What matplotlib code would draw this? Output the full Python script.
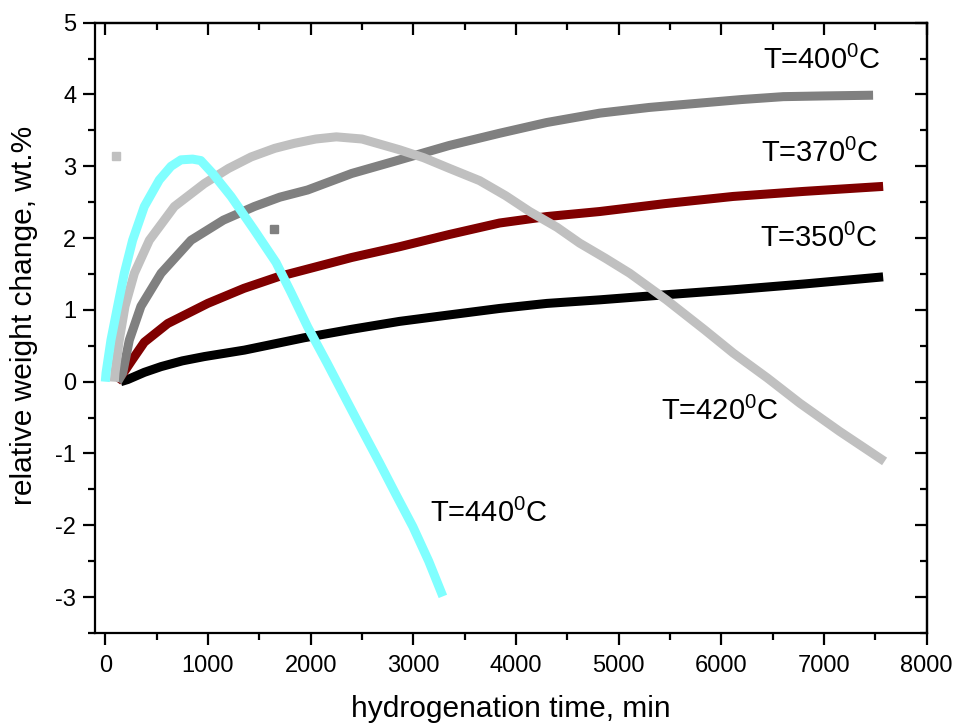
import matplotlib
matplotlib.use("Agg")
import matplotlib.pyplot as plt
from matplotlib.ticker import MultipleLocator

plt.rcParams['font.family'] = ['Liberation Sans', 'DejaVu Sans']
plt.rcParams['mathtext.fontset'] = 'custom'
plt.rcParams['mathtext.rm'] = 'Liberation Sans'
plt.rcParams['axes.unicode_minus'] = False

# T = 350 C (black)
t350 = [150, 218, 380, 543, 750, 965, 1355, 1930, 2400, 2866, 3350, 3840, 4300,
        4815, 5450, 6115, 6800, 7576]
w350 = [0.0, 0.03, 0.13, 0.21, 0.29, 0.35, 0.44, 0.61, 0.73, 0.84, 0.93, 1.02, 1.09,
        1.14, 1.21, 1.28, 1.36, 1.46]

# T = 370 C (dark red)
t370 = [110, 185, 260, 380, 608, 997, 1350, 1680, 2000, 2400, 2866, 3350, 3840,
        4300, 4815, 5450, 6115, 6800, 7576]
w370 = [0.0, 0.14, 0.30, 0.55, 0.81, 1.09, 1.30, 1.46, 1.58, 1.73, 1.88, 2.05, 2.21,
        2.30, 2.37, 2.48, 2.58, 2.65, 2.72]

# T = 400 C (grey)
t400 = [120, 169, 234, 347, 543, 835, 1150, 1452, 1700, 1970, 2400, 2866, 3350,
        3840, 4300, 4815, 5300, 5790, 6200, 6603, 7000, 7478]
w400 = [0.0, 0.12, 0.58, 1.05, 1.51, 1.97, 2.25, 2.44, 2.57, 2.67, 2.90, 3.09, 3.29,
        3.46, 3.61, 3.74, 3.82, 3.88, 3.93, 3.97, 3.98, 3.99]

# T = 420 C (light grey)
t420 = [88, 94, 136, 192, 283, 429, 673, 965, 1200, 1420, 1650, 1842, 2050, 2250,
        2500, 2866, 3100, 3353, 3646, 3900, 4133, 4400, 4620, 4870, 5108, 5465,
        5839, 6115, 6450, 6765, 7150, 7590]
w420 = [0.0, 0.12, 0.58, 1.05, 1.51, 1.97, 2.44, 2.76, 2.97, 3.13, 3.25, 3.32, 3.38, 3.41,
        3.38, 3.23, 3.12, 2.97, 2.80, 2.59, 2.37, 2.15, 1.93, 1.72, 1.51, 1.14,
        0.72, 0.40, 0.05, -0.30, -0.69, -1.11]

# T = 440 C (cyan)
t440 = [0, 7, 55, 120, 185, 266, 380, 526, 640, 737, 850, 930, 1046, 1225, 1452,
        1663, 1810, 1972, 2160, 2346, 2500, 2671, 2830, 2996, 3150, 3288]
w440 = [0.0, 0.12, 0.58, 1.05, 1.51, 1.97, 2.44, 2.81, 3.00, 3.09, 3.10, 3.08, 2.90,
        2.58, 2.11, 1.66, 1.24, 0.76, 0.26, -0.25, -0.67, -1.13, -1.57, -2.02, -2.50, -2.99]

# stray points
stray_t = [107, 1640]
stray_w = [3.14, 2.12]
stray_c = ['#C0C0C0', '#808080']

labels = [r'T=400$^{\mathrm{0}}$C', r'T=370$^{\mathrm{0}}$C', r'T=350$^{\mathrm{0}}$C',
          r'T=420$^{\mathrm{0}}$C', r'T=440$^{\mathrm{0}}$C']
label_x = [6407, 6391, 6375, 5416, 3165]
label_y = [4.35, 3.06, 1.88, -0.54, -1.95]

fig = plt.figure(figsize=(9.58, 7.25), dpi=100)
ax = fig.add_axes([0.0992, 0.1269, 0.8681, 0.8418])

lw = 6.5
ax.plot(t350, w350, color='black', lw=lw, solid_capstyle='butt', solid_joinstyle='round')
ax.plot(t370, w370, color='#800000', lw=lw, solid_capstyle='butt', solid_joinstyle='round')
ax.plot(t400, w400, color='#808080', lw=lw, solid_capstyle='butt', solid_joinstyle='round')
ax.plot(t420, w420, color='#C0C0C0', lw=lw, solid_capstyle='butt', solid_joinstyle='round')
ax.plot(t440, w440, color='#80FFFF', lw=lw, solid_capstyle='butt', solid_joinstyle='round')
for x, y, c in zip(stray_t, stray_w, stray_c):
    ax.plot([x], [y], marker='s', ms=6, color=c, ls='none')

for s, x, y in zip(labels, label_x, label_y):
    ax.text(x, y, s, fontsize=21, ha='left', va='baseline')

ax.set_xlim(-100, 8000)
ax.set_ylim(-3.5, 5)
ax.xaxis.set_major_locator(MultipleLocator(1000))
ax.xaxis.set_minor_locator(MultipleLocator(500))
ax.yaxis.set_major_locator(MultipleLocator(1))
ax.yaxis.set_minor_locator(MultipleLocator(0.5))

for sp in ax.spines.values():
    sp.set_linewidth(1.6)
ax.tick_params(which='major', direction='out', length=8.5, width=1.6, labelsize=17)
ax.tick_params(which='minor', direction='out', length=5, width=1.6)
ax.tick_params(axis='x', which='major', pad=7)
ax.tick_params(axis='y', which='major', pad=5)

# mirrored ticks on top and right, pointing inwards
top = ax.secondary_xaxis('top')
top.xaxis.set_major_locator(MultipleLocator(1000))
top.xaxis.set_minor_locator(MultipleLocator(500))
top.tick_params(which='major', direction='in', length=8.5, width=1.6, labeltop=False)
top.tick_params(which='minor', direction='in', length=5, width=1.6)
top.spines['top'].set_linewidth(1.6)
right = ax.secondary_yaxis('right')
right.yaxis.set_major_locator(MultipleLocator(1))
right.yaxis.set_minor_locator(MultipleLocator(0.5))
right.tick_params(which='major', direction='in', length=8.5, width=1.6, labelright=False)
right.tick_params(which='minor', direction='in', length=5, width=1.6)
right.spines['right'].set_linewidth(1.6)

ax.set_xlabel('hydrogenation time, min', fontsize=21.5, labelpad=13)
ax.set_ylabel('relative weight change, wt.%', fontsize=21.5)
ax.yaxis.set_label_coords(-0.0685, 0.52)

fig.savefig('out.png', dpi=100)
